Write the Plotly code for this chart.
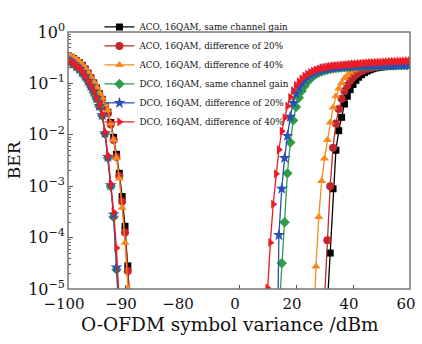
import numpy as np
import plotly.graph_objects as go

# ---------------- data (BER stored as log10 values) ----------------
series_names = [
    "ACO, 16QAM, same channel gain",
    "ACO, 16QAM, difference of 20%",
    "ACO, 16QAM, difference of 40%",
    "DCO, 16QAM, same channel gain",
    "DCO, 16QAM, difference of 20%",
    "DCO, 16QAM, difference of 40%",
]

# left branch (low symbol variance, noise-limited), x in dBm
x_left_aco = [-100, -99.5, -99, -98.5, -98, -97.5, -97, -96.5, -96, -95.5, -95, -94.5,
              -94, -93.5, -93, -92.5, -92, -91.5, -91, -90.5, -90, -89.5, -89]
x_left_dco = [-100, -99.5, -99, -98.5, -98, -97.5, -97, -96.5, -96, -95.5, -95, -94.5,
              -94, -93.5, -93, -92.5, -92, -91.5, -91]

aco_same_left = [-0.46, -0.49, -0.52, -0.56, -0.60, -0.65, -0.72, -0.80, -0.89, -0.99, -1.09, -1.20,
                 -1.31, -1.43, -1.56, -1.76, -2.05, -2.38, -2.75, -3.20, -3.78, -4.55, -5.5]
aco_20_left = [-0.47, -0.50, -0.53, -0.57, -0.61, -0.66, -0.73, -0.81, -0.90, -1.00, -1.10, -1.21,
               -1.32, -1.45, -1.58, -1.80, -2.10, -2.43, -2.80, -3.30, -3.90, -4.65, -5.6]
aco_40_left = [-0.44, -0.47, -0.50, -0.54, -0.58, -0.63, -0.70, -0.78, -0.87, -0.97, -1.07, -1.18,
               -1.28, -1.40, -1.52, -1.78, -2.10, -2.45, -2.85, -3.42, -4.10, -4.98, -5.8]
dco_same_left = [-0.55, -0.59, -0.63, -0.68, -0.73, -0.79, -0.87, -0.96, -1.06, -1.17, -1.30, -1.45,
                 -1.63, -1.98, -2.45, -3.00, -3.60, -4.62, -5.6]
dco_20_left = [-0.54, -0.58, -0.62, -0.67, -0.72, -0.78, -0.86, -0.95, -1.05, -1.16, -1.29, -1.44,
               -1.62, -1.97, -2.43, -2.98, -3.55, -4.58, -5.5]
dco_40_left = [-0.53, -0.57, -0.61, -0.66, -0.71, -0.77, -0.85, -0.94, -1.04, -1.15, -1.28, -1.42,
               -1.60, -1.95, -2.40, -2.95, -3.50, -4.20, -5.3]

# right branch (high symbol variance, clipping-limited), x in dBm
x_right_aco_same = list(range(31, 61))
x_right_aco_20 = list(range(30, 61))
x_right_aco_40 = list(range(26, 61))
x_right_dco_same = list(range(14, 61))
x_right_dco_20 = list(range(13, 61))
x_right_dco_40 = list(range(9, 61))

aco_same_right = [-5.3, -4.3, -3.05, -2.3, -1.92, -1.66, -1.40, -1.25, -1.12, -1.02,
                  -0.94, -0.88, -0.83, -0.79, -0.76, -0.735, -0.715, -0.70, -0.69, -0.68,
                  -0.675, -0.67, -0.665, -0.66, -0.655, -0.65, -0.647, -0.644, -0.642, -0.64]
aco_20_right = [-5.2, -4.05, -3.00, -2.25, -1.78, -1.50, -1.30, -1.15, -1.04, -0.95, -0.88,
                -0.83, -0.79, -0.76, -0.735, -0.715, -0.70, -0.69, -0.68, -0.672, -0.665,
                -0.66, -0.655, -0.65, -0.646, -0.643, -0.64, -0.637, -0.634, -0.632, -0.63]
aco_40_right = [-6.0, -4.56, -3.60, -2.90, -2.46, -2.10, -1.76, -1.47, -1.25, -1.10, -0.99,
                -0.90, -0.84, -0.79, -0.75, -0.725, -0.705, -0.69, -0.68, -0.67, -0.665,
                -0.66, -0.655, -0.65, -0.647, -0.644, -0.641, -0.639, -0.637, -0.635, -0.634,
                -0.633, -0.632, -0.631, -0.63]
dco_same_right = [-5.5, -4.5, -3.7, -2.75, -2.15, -1.72, -1.46, -1.28, -1.15, -1.05, -0.97,
                  -0.91, -0.86, -0.82, -0.79, -0.77, -0.75, -0.735, -0.72, -0.71, -0.70,
                  -0.695, -0.69, -0.685, -0.68, -0.675, -0.67, -0.668, -0.666, -0.664, -0.662,
                  -0.66, -0.658, -0.656, -0.655, -0.654, -0.653, -0.652, -0.651, -0.65, -0.649,
                  -0.648, -0.647, -0.646, -0.645, -0.645, -0.645]
dco_20_right = [-8.0, -3.95, -3.05, -2.45, -2.02, -1.65, -1.38, -1.20, -1.08, -0.99, -0.92,
                -0.87, -0.83, -0.80, -0.77, -0.75, -0.73, -0.72, -0.71, -0.70, -0.695,
                -0.69, -0.685, -0.68, -0.675, -0.67, -0.667, -0.664, -0.661, -0.659, -0.657,
                -0.655, -0.653, -0.651, -0.65, -0.649, -0.648, -0.647, -0.646, -0.645, -0.644,
                -0.643, -0.642, -0.641, -0.641, -0.64, -0.64, -0.64]
dco_40_right = [-6.0, -4.98, -4.10, -3.35, -2.76, -2.29, -1.93, -1.67, -1.44, -1.27, -1.14,
                -1.04, -0.97, -0.91, -0.86, -0.82, -0.79, -0.76, -0.74, -0.72, -0.70,
                -0.69, -0.68, -0.67, -0.66, -0.655, -0.65, -0.645, -0.64, -0.635, -0.63,
                -0.625, -0.62, -0.615, -0.61, -0.605, -0.60, -0.597, -0.594, -0.591, -0.588,
                -0.585, -0.582, -0.579, -0.576, -0.573, -0.570, -0.568, -0.566, -0.564,
                -0.562, -0.560]

left_x_ticks = [-100, -90, -80]
left_x_labels = ["\u2212100", "\u221290", "\u221280"]
right_x_ticks = [0, 20, 40, 60]
right_x_labels = ["0", "20", "40", "60"]
y_ticks = [1e-5, 1e-4, 1e-3, 1e-2, 1e-1, 1]
y_labels = ["10<sup>\u22125</sup>", "10<sup>\u22124</sup>", "10<sup>\u22123</sup>",
            "10<sup>\u22122</sup>", "10<sup>\u22121</sup>", "10<sup>0</sup>"]

# ---------------- styles ----------------
colors = ["#000000", "#c1272d", "#f7891f", "#2f9c48", "#2a4fb5", "#ed1c24"]
symbols = ["square", "circle", "triangle-up", "diamond", "star", "triangle-right"]
sizes = [7, 8, 8, 8, 9, 8]

left_sets = [(x_left_aco, aco_same_left), (x_left_aco, aco_20_left), (x_left_aco, aco_40_left),
             (x_left_dco, dco_same_left), (x_left_dco, dco_20_left), (x_left_dco, dco_40_left)]
right_sets = [(x_right_aco_same, aco_same_right), (x_right_aco_20, aco_20_right),
              (x_right_aco_40, aco_40_right), (x_right_dco_same, dco_same_right),
              (x_right_dco_20, dco_20_right), (x_right_dco_40, dco_40_right)]

FONT = "DejaVu Serif"
fig = go.Figure()

for i, name in enumerate(series_names):
    mk = dict(symbol=symbols[i], size=sizes[i], color=colors[i], line=dict(width=0))
    ln = dict(color=colors[i], width=1.3)
    xl, yl = left_sets[i]
    fig.add_trace(go.Scatter(x=xl, y=np.power(10.0, yl), mode="lines+markers", name=name,
                             legendgroup=name, showlegend=True, marker=mk, line=ln,
                             xaxis="x", yaxis="y"))
for i, name in enumerate(series_names):
    mk = dict(symbol=symbols[i], size=sizes[i], color=colors[i], line=dict(width=0))
    ln = dict(color=colors[i], width=1.3)
    xr, yr = right_sets[i]
    fig.add_trace(go.Scatter(x=xr, y=np.power(10.0, yr), mode="lines+markers", name=name,
                             legendgroup=name, showlegend=False, marker=mk, line=ln,
                             xaxis="x2", yaxis="y"))

axis_common = dict(ticks="inside", ticklen=4, tickcolor="#555", showgrid=False,
                   zeroline=False, showline=False, automargin=False, ticklabelshift=-4,
                   ticklabelstandoff=4,
                   tickfont=dict(family=FONT, size=15, color="#111"))

fig.update_layout(
    width=422, height=344,
    margin=dict(l=68, r=12, t=14, b=55),
    paper_bgcolor="white", plot_bgcolor="white",
    showlegend=True,
    xaxis=dict(domain=[0, 1/3], range=[-100, -80], tickmode="array",
               tickvals=left_x_ticks, ticktext=left_x_labels, anchor="y", **axis_common),
    xaxis2=dict(domain=[1/3, 1], range=[-20, 60], tickmode="array",
                tickvals=right_x_ticks, ticktext=right_x_labels, anchor="y", **axis_common),
    yaxis=dict(type="log", range=[-5, 0], tickmode="array", tickvals=y_ticks, ticktext=y_labels,
               ticks="inside", ticklen=5, tickcolor="#555", showgrid=False, zeroline=False,
               showline=False, anchor="x", automargin=False, ticklabelstandoff=2,
               minor=dict(ticks="inside", ticklen=2.5, tickcolor="#666", dtick="D1", showgrid=False),
               tickfont=dict(family=FONT, size=16, color="#111")),
    legend=dict(x=0.092, y=1.076, xanchor="left", yanchor="top", bgcolor="rgba(0,0,0,0)",
                borderwidth=0, font=dict(family=FONT, size=8.8, color="#111"),
                tracegroupgap=0, itemwidth=30),
    shapes=[dict(type="rect", xref="paper", yref="paper", x0=0, x1=1, y0=0, y1=1,
                 line=dict(color="#777", width=1.5), layer="above")],
    annotations=[
        dict(text="O-OFDM symbol variance /dBm", xref="paper", yref="paper", x=0.474, y=-0.138,
             xanchor="center", yanchor="middle", showarrow=False,
             font=dict(family=FONT, size=18.5, color="#111")),
        dict(text="BER", xref="paper", yref="paper", x=-0.158, y=0.505, textangle=-90,
             xanchor="center", yanchor="middle", showarrow=False,
             font=dict(family=FONT, size=17, color="#111")),
    ],
)

fig.write_html("out.html", config={"displayModeBar": False},
               post_script="document.body.style.margin='0';document.body.style.padding='0';")
